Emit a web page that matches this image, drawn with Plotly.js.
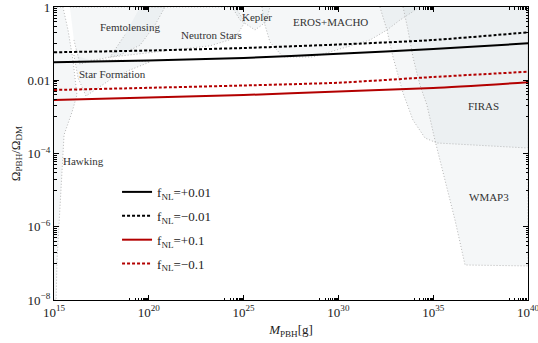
<!DOCTYPE html>
<html>
<head>
<meta charset="utf-8">
<script src="https://cdn.plot.ly/plotly-3.0.1.min.js"></script>
<style>html,body{margin:0;padding:0;background:#fff;}#chart{width:538px;height:343px;}</style>
</head>
<body>
<div id="chart"></div>
<script>
// ---- data: PBH mass (log10 g) sample points ----
const massExp = [15, 20, 25, 30, 35, 40];
// Omega_PBH / Omega_DM for each f_NL curve
const fnlPos001 = [0.0309, 0.0346, 0.0405, 0.0527, 0.0713, 0.102];
const fnlNeg001 = [0.058, 0.0649, 0.076, 0.0946, 0.1256, 0.2038];
const fnlPos01  = [0.00289, 0.00338, 0.00395, 0.00493, 0.00614, 0.00879];
const fnlNeg01  = [0.00542, 0.00622, 0.00719, 0.00857, 0.01227, 0.0171];
const seriesNames = ["f<sub>NL</sub>=+0.01", "f<sub>NL</sub>=−0.01", "f<sub>NL</sub>=+0.1", "f<sub>NL</sub>=−0.1"];

// ---- constraint regions (log10 M, log10 Omega) ----
const hawkingX = [15, 15.47, 15.74, 16.0, 16.21, 15.95, 15.53, 15.32, 15.16, 15.11, 15];
const hawkingY = [0, 0, -0.63, -1.45, -2.40, -2.87, -3.49, -5.27, -6.91, -8, -8];
const femtoX = [15.84, 20.85, 20.33, 19.54, 18.48, 17.16, 16.37, 16.05];
const femtoY = [0, 0, -0.49, -1.04, -1.31, -1.45, -1.56, -0.90];
const nstarX = [19.54, 24.55, 25.07, 24.55, 23.23, 21.38, 19.54, 17.95, 18.74];
const nstarY = [0, 0, -0.41, -0.85, -1.06, -1.17, -1.28, -1.37, -0.76];
const keplerX = [24.39, 24.81, 25.60, 26.18, 26.39];
const keplerY = [0, -0.355, -0.628, -0.41, 0];
const erosX = [25.97, 26.08, 26.39, 27.08, 28.66, 29.93, 31.67, 32.56, 33.25, 34.30];
const erosY = [0, -0.41, -0.956, -1.365, -1.365, -1.174, -0.90, -0.628, -0.355, 0];
const starX = [16.05, 16.27, 16.69, 17.22, 17.95, 19.01, 20.06, 18.48, 16.90];
const starY = [-1.31, -1.94, -2.43, -2.24, -1.99, -1.72, -1.50, -1.45, -1.45];
const firasX = [32.19, 32.56, 32.88, 33.41, 33.93, 34.57, 35.20, 40, 40];
const firasY = [0, -0.628, -1.365, -2.348, -3.085, -3.577, -3.713, -3.85, 0];
const wmapX = [33.41, 33.67, 33.93, 34.30, 34.67, 35.09, 35.62, 36.15, 36.68, 40, 40];
const wmapY = [0, -0.628, -1.365, -2.13, -2.676, -3.631, -4.723, -5.816, -7.044, -7.07, 0];

const regionLabels = ["Femtolensing", "Neutron Stars", "Kepler", "EROS+MACHO", "Star Formation", "Hawking", "FIRAS", "WMAP3"];
const labelX = [19.0, 23.33, 25.71, 29.56, 18.06, 16.53, 37.63, 37.94];
const labelY = [-0.546, -0.76, -0.27, -0.41, -1.83, -4.2, -2.70, -5.19];

// ---- axis ticks ----
const xTickExp = [15, 20, 25, 30, 35, 40];
const yTickVals = [1, 0.01, 1e-4, 1e-6, 1e-8];
const yTickText = ["1", "0.01", "10<sup>−4</sup>", "10<sup>−6</sup>", "10<sup>−8</sup>"];

const pw = e => Math.pow(10, e);
const fontFam = "Liberation Serif, Times New Roman, serif";

const regions = [
  [hawkingX, hawkingY], [femtoX, femtoY], [nstarX, nstarY], [keplerX, keplerY],
  [erosX, erosY], [starX, starY], [firasX, firasY], [wmapX, wmapY]
];
const traces = regions.map(r => ({
  x: r[0].map(pw), y: r[1].map(pw), type: "scatter", mode: "lines",
  fill: "toself", fillcolor: "rgba(185,198,205,0.14)",
  line: {color: "#b6b6b6", width: 1, dash: "1px,2px"},
  hoverinfo: "skip", showlegend: false
}));

const massVals = massExp.map(pw);
const lineDefs = [
  [fnlPos001, "#000000", "solid"],
  [fnlNeg001, "#000000", "3px,2px"],
  [fnlPos01, "#b30000", "solid"],
  [fnlNeg01, "#b30000", "3px,2px"]
];
lineDefs.forEach((d, i) => {
  traces.push({
    x: massVals, y: d[0], type: "scatter", mode: "lines", name: seriesNames[i],
    line: {color: d[1], width: 2, dash: d[2], shape: "spline", smoothing: 0.6},
    legendgroup: "g" + i
  });
});

const xMinor = [];
xTickExp.slice(1).forEach(D => { for (let k = 1; k <= 9; k++) xMinor.push(k * pw(D - 1)); });
const yMinor = [];
[0, -2, -4, -6].forEach(L => { for (let k = 1; k <= 9; k++) yMinor.push(k * pw(L - 1)); });

const annotations = regionLabels.map((t, i) => ({
  x: labelX[i], y: labelY[i], xref: "x", yref: "y", text: t, showarrow: false,
  font: {family: fontFam, size: 11, color: "#333"}
}));

const layout = {
  width: 538, height: 343,
  margin: {l: 54, r: 10, t: 7, b: 43},
  paper_bgcolor: "#fff", plot_bgcolor: "#fff",
  font: {family: fontFam, size: 13, color: "#222"},
  xaxis: {
    type: "log", range: [15, 40], showgrid: false, zeroline: false,
    showline: true, linecolor: "#000", linewidth: 1.2, mirror: "allticks",
    ticks: "inside", ticklen: 5, tickcolor: "#000", ticklabeloverflow: "allow",
    tickmode: "array", tickvals: xTickExp.map(pw),
    ticktext: xTickExp.map(e => "10<sup>" + e + "</sup>"),
    minor: {tickmode: "array", tickvals: xMinor, ticks: "inside", ticklen: 2.5, tickcolor: "#000"},
    title: {text: "<i>M</i><sub>PBH</sub>[g]", font: {family: fontFam, size: 13}, standoff: 6}
  },
  yaxis: {
    type: "log", range: [-8, 0], showgrid: false, zeroline: false,
    showline: true, linecolor: "#000", linewidth: 1.2, mirror: "allticks",
    ticks: "inside", ticklen: 5, tickcolor: "#000", ticklabeloverflow: "allow",
    tickmode: "array", tickvals: yTickVals, ticktext: yTickText,
    minor: {tickmode: "array", tickvals: yMinor, ticks: "inside", ticklen: 2.5, tickcolor: "#000"},
    title: {text: "Ω<sub>PBH</sub>/Ω<sub>DM</sub>", font: {family: fontFam, size: 13}, standoff: 4}
  },
  legend: {
    x: 0.133, y: 0.42, xanchor: "left", yanchor: "top",
    bgcolor: "rgba(0,0,0,0)", font: {family: fontFam, size: 13, color: "#222"},
    itemwidth: 30, tracegroupgap: 4
  },
  annotations: annotations,
  showlegend: true
};

Plotly.newPlot("chart", traces, layout, {displayModeBar: false, staticPlot: true});
</script>
</body>
</html>
